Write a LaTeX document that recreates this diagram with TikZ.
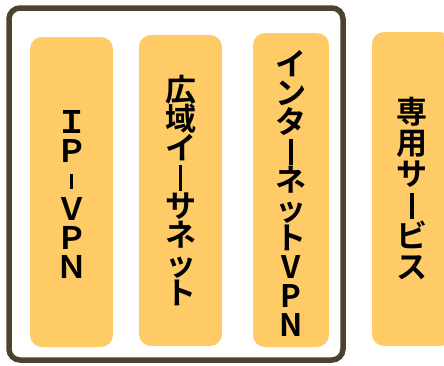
\documentclass[tikz,border=0pt]{standalone}
\usepackage{fontspec}
\newfontfamily\jp{Noto Sans CJK JP}[BoldFont={Noto Sans CJK JP Bold}]
\definecolor{boxfill}{HTML}{FECB66}
\definecolor{framec}{HTML}{4B432D}
\newcommand{\myvbar}{\raisebox{-2.5pt}{\rule{3.8pt}{26pt}}}
\newcommand{\myvdash}{\raisebox{2pt}{\rule{3.4pt}{15pt}}}
\newcommand{\tightlines}{\lineskiplimit=-60pt\relax\lineskip=0pt\relax}
\tikzset{
  colbox/.style={fill=boxfill, rounded corners=12pt, inner sep=0pt},
  coltext/.style={inner sep=0pt, align=center,
    font=\jp\bfseries\fontsize{31}{29}\selectfont\tightlines},
  frame/.style={draw=framec, line width=5.5pt, rounded corners=11pt}
}
\begin{document}
\begin{tikzpicture}[x=1pt,y=-1pt]
\useasboundingbox (0,0) rectangle (444,365);
\clip (0,0) rectangle (444,365);
\draw[frame] (9,8) rectangle (343,360);
\node[colbox, minimum width=83pt, minimum height=310pt] (b1) at (71.5,192) {};
\node[colbox, minimum width=83pt, minimum height=311pt] (b2) at (180.5,190.5) {};
\node[colbox, minimum width=76pt, minimum height=314pt] (b3) at (291,190) {};
\node[colbox, minimum width=80pt, minimum height=314pt] (b4) at (412,189) {};
\node[coltext] (t1) at ([yshift=-2pt]b1.center) {Ｉ\\Ｐ\\\myvdash\\Ｖ\\Ｐ\\Ｎ};
\node[coltext] (t2) at (b2.center) {広\\域\\イ\\\myvbar\\サ\\ネ\\ッ\\ト};
\node[coltext] (t3) at ([yshift=-3pt]b3.center) {イ\\ン\\タ\\\myvbar\\ネ\\ッ\\ト\\V\\P\\N};
\node[coltext, font=\jp\bfseries\fontsize{31}{31}\selectfont\tightlines] (t4) at (b4.center) {専\\用\\サ\\\myvbar\\ビ\\ス};
\end{tikzpicture}
\end{document}
